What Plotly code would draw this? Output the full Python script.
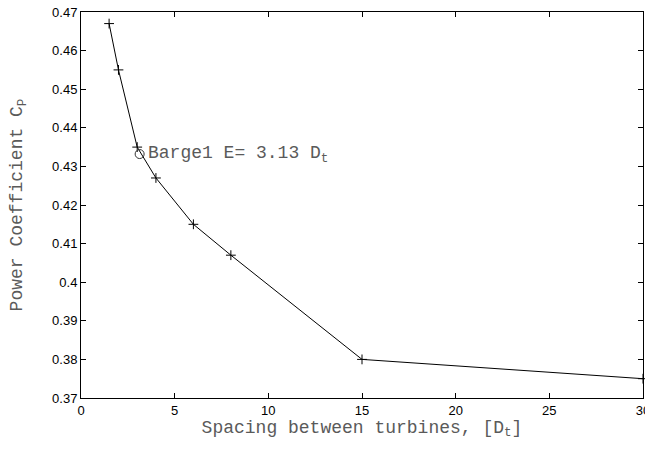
import plotly.graph_objects as go

spacing = [1.5, 2, 3, 4, 6, 8, 15, 30]
cp = [0.467, 0.455, 0.435, 0.427, 0.415, 0.407, 0.380, 0.375]
barge_x = [3.13]
barge_y = [0.4332]
barge_label = "Barge1 E= 3.13 D<sub>t</sub>"
x_ticks = [0, 5, 10, 15, 20, 25, 30]
y_ticks = [0.37, 0.38, 0.39, 0.40, 0.41, 0.42, 0.43, 0.44, 0.45, 0.46, 0.47]
y_tick_text = ["0.37", "0.38", "0.39", "0.4", "0.41", "0.42", "0.43", "0.44", "0.45", "0.46", "0.47"]

MONO = "Liberation Mono"
TXT = "#5a5a5a"
fig = go.Figure()
fig.add_trace(go.Scatter(
    x=spacing, y=cp, mode="lines+markers",
    line=dict(color="black", width=1),
    marker=dict(symbol="cross-thin", size=7, line=dict(color="black", width=1)),
    showlegend=False, cliponaxis=False,
))
fig.add_trace(go.Scatter(
    x=barge_x, y=barge_y, mode="markers",
    marker=dict(symbol="circle-open", size=9, color="#333", line=dict(width=1)),
    showlegend=False,
))
fig.add_annotation(x=barge_x[0], y=barge_y[0], text=barge_label, showarrow=False,
                   xanchor="left", yanchor="middle", xshift=6,
                   font=dict(family=MONO, size=18, color=TXT))

axis_common = dict(
    showgrid=False, zeroline=False, showline=True, linecolor="black", linewidth=1,
    mirror="ticks", ticks="inside", ticklen=5, tickcolor="black",
    ticklabeloverflow="allow",
    tickfont=dict(family="Liberation Sans", size=13, color="black"),
)
fig.update_xaxes(range=[0, 30], tickvals=x_ticks,
                 title=dict(text="Spacing between turbines, [D<sub>t</sub>]",
                            font=dict(family=MONO, size=18, color=TXT), standoff=0),
                 **axis_common)
fig.update_yaxes(range=[0.37, 0.47], tickvals=y_ticks, ticktext=y_tick_text,
                 title=dict(text="Power Coefficient C<sub>P</sub>",
                            font=dict(family=MONO, size=18, color=TXT), standoff=24),
                 **axis_common)
fig.update_layout(
    width=652, height=461,
    margin=dict(l=81, r=2, t=12, b=63),
    plot_bgcolor="white", paper_bgcolor="white",
)
fig.write_html("out.html", config={"displayModeBar": False},
               post_script="document.body.style.margin='0';document.body.style.overflow='hidden';")
